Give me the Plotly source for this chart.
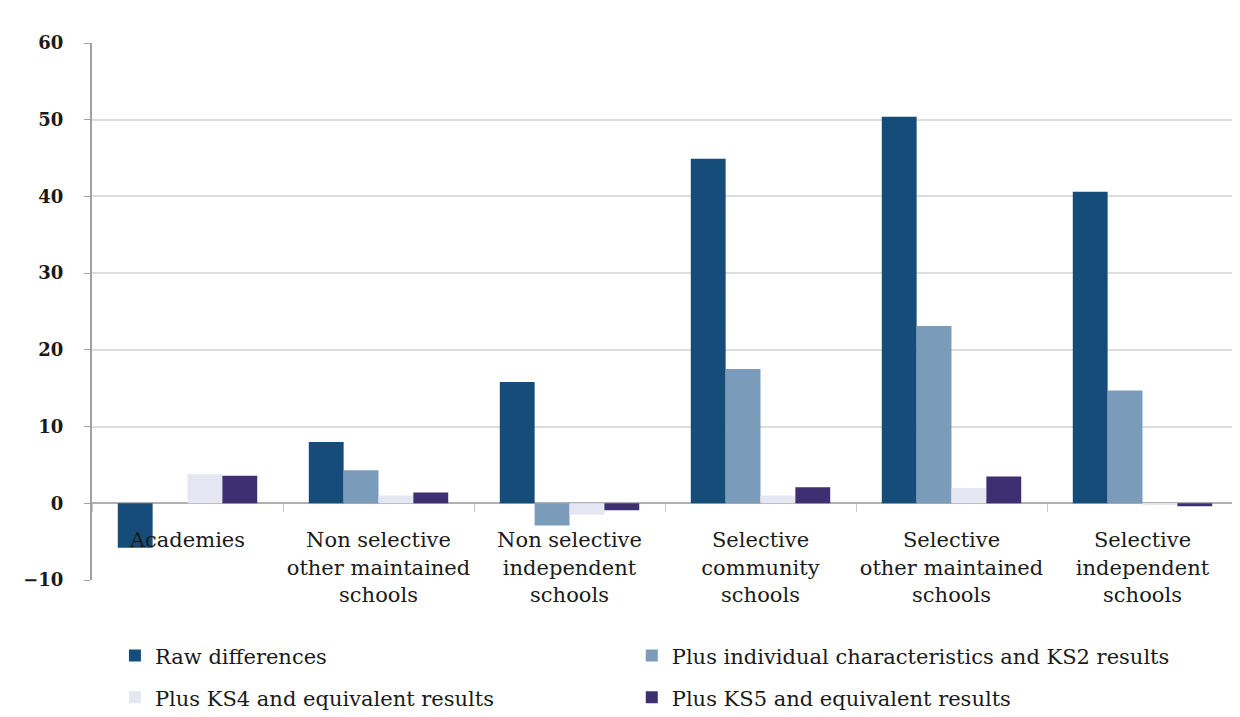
import plotly.graph_objects as go

categories = [
    "Academies",
    "Non selective<br>other maintained<br>schools",
    "Non selective<br>independent<br>schools",
    "Selective<br>community<br>schools",
    "Selective<br>other maintained<br>schools",
    "Selective<br>independent<br>schools",
]
raw_differences = [-5.8, 8.0, 15.8, 44.9, 50.4, 40.6]
plus_ks2 = [0.0, 4.3, -2.9, 17.5, 23.1, 14.7]
plus_ks4 = [3.8, 1.0, -1.5, 1.0, 2.0, -0.2]
plus_ks5 = [3.6, 1.4, -0.9, 2.1, 3.5, -0.4]

series_names = [
    "Raw differences",
    "Plus individual characteristics and KS2 results",
    "Plus KS4 and equivalent results",
    "Plus KS5 and equivalent results",
]
colors = ["#154C7A", "#7B9BBB", "#E6E6F2", "#3D2F72"]
legends = ["legend", "legend2", "legend3", "legend4"]

font_family = "DejaVu Serif"

fig = go.Figure()
for name, vals, col, lg in zip(series_names,
                               [raw_differences, plus_ks2, plus_ks4, plus_ks5],
                               colors, legends):
    fig.add_trace(go.Bar(x=categories, y=vals, name=name, marker_color=col,
                         marker_line_width=0, legend=lg, showlegend=True))

legend_font = dict(size=21, family=font_family, color="#1a1a1a")
legend_pos = {"legend": (0.02, -0.103), "legend2": (0.471, -0.103),
              "legend3": (0.02, -0.181), "legend4": (0.471, -0.181)}

fig.update_layout(
    width=1240, height=745,
    margin=dict(l=84, r=10, t=35, b=173),
    paper_bgcolor="white", plot_bgcolor="white",
    barmode="group", bargap=0.27, bargroupgap=0,
    showlegend=True,
    font=dict(family=font_family, color="#1a1a1a"),
)
for key, (lx, ly) in legend_pos.items():
    fig.update_layout({key: dict(x=lx, y=ly, xanchor="left", yanchor="top",
                                 font=legend_font, bgcolor="rgba(0,0,0,0)")})

fig.update_yaxes(
    range=[-10, 60], dtick=10, tick0=0, automargin=False,
    showgrid=True, gridcolor="#DDDDDD", gridwidth=2,
    zeroline=True, zerolinecolor="#B0B0B0", zerolinewidth=2,
    showline=True, linecolor="#A0A0A0", linewidth=2,
    ticks="outside", ticklen=6, tickcolor="#A0A0A0",
    ticklabelstandoff=17,
    tickfont=dict(size=18, family=font_family, color="#1a1a1a", weight="bold"),
)
fig.update_xaxes(
    anchor="free", position=10 / 70, automargin=False,
    showline=False, showgrid=False,
    ticks="outside", tickson="boundaries", ticklen=8, tickcolor="#C8C8C8",
    ticklabelstandoff=22,
    tickfont=dict(size=21, family=font_family, color="#1a1a1a"),
    tickangle=0,
)

fig.write_html("out.html")
